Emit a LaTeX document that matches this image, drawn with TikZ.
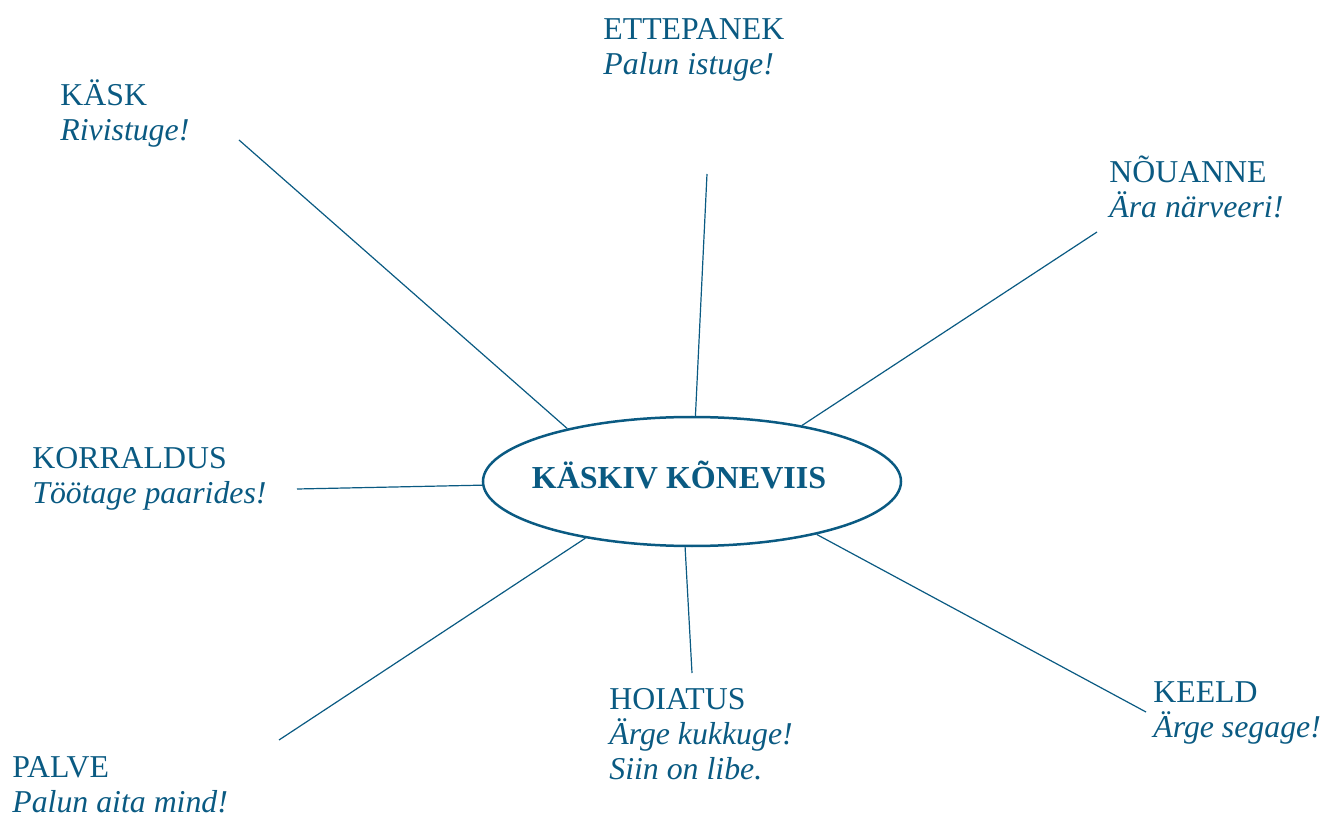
\documentclass[tikz,border=0pt]{standalone}
\usepackage{fontspec}
\setmainfont{Liberation Serif}
\usetikzlibrary{shapes.geometric}
\definecolor{kblue}{RGB}{10,90,130}
\tikzstyle{term}=[anchor=base west,align=left,inner sep=0pt,text=kblue,font=\fontsize{15.9}{17.5}\selectfont]
\tikzstyle{hub}=[ellipse,draw=kblue,line width=1.25pt,inner sep=0pt,minimum width=209pt,minimum height=64.5pt,text height=13pt,text depth=6.5pt,text=kblue,font=\fontsize{16}{18}\selectfont\bfseries]
\tikzstyle{spoke}=[draw=kblue,line width=0.6pt]

\begin{document}
\begin{tikzpicture}[x=0.5pt,y=-0.5pt]
    \useasboundingbox (0,0) rectangle (1324,818);
    \node[hub] (core) at (692,481.5) {\hspace*{-13pt}KÄSKIV KÕNEVIIS};
    \node[term] (kask) at (60,141) {KÄSK\\\textit{Rivistuge!}};
    \node[term] (ettepanek) at (603,75) {ETTEPANEK\\\textit{Palun istuge!}};
    \node[term] (nouanne) at (1109,218) {NÕUANNE\\\textit{Ära närveeri!}};
    \node[term] (korraldus) at (32,503) {KORRALDUS\\\textit{Töötage paarides!}};
    \node[term] (palve) at (12,812) {PALVE\\\textit{Palun aita mind!}};
    \node[term] (hoiatus) at (609,779) {HOIATUS\\\textit{Ärge kukkuge!}\\\textit{Siin on libe.}};
    \node[term] (keeld) at (1153,737) {KEELD\\\textit{Ärge segage!}};

    \coordinate (kask-end) at (239,140);
    \coordinate (ettepanek-end) at (707,174);
    \coordinate (nouanne-end) at (1097,232);
    \coordinate (korraldus-end) at (297,489);
    \coordinate (palve-end) at (279,740);
    \coordinate (hoiatus-end) at (692,673);
    \coordinate (keeld-end) at (1146,712);

    \foreach \from/\to in {kask-end/core.157,ettepanek-end/core.87,nouanne-end/core.27,korraldus-end/core.181,palve-end/core.208,hoiatus-end/core.264,keeld-end/core.337}
    \draw[spoke] (\from) -- (\to);
\end{tikzpicture}
\end{document}
